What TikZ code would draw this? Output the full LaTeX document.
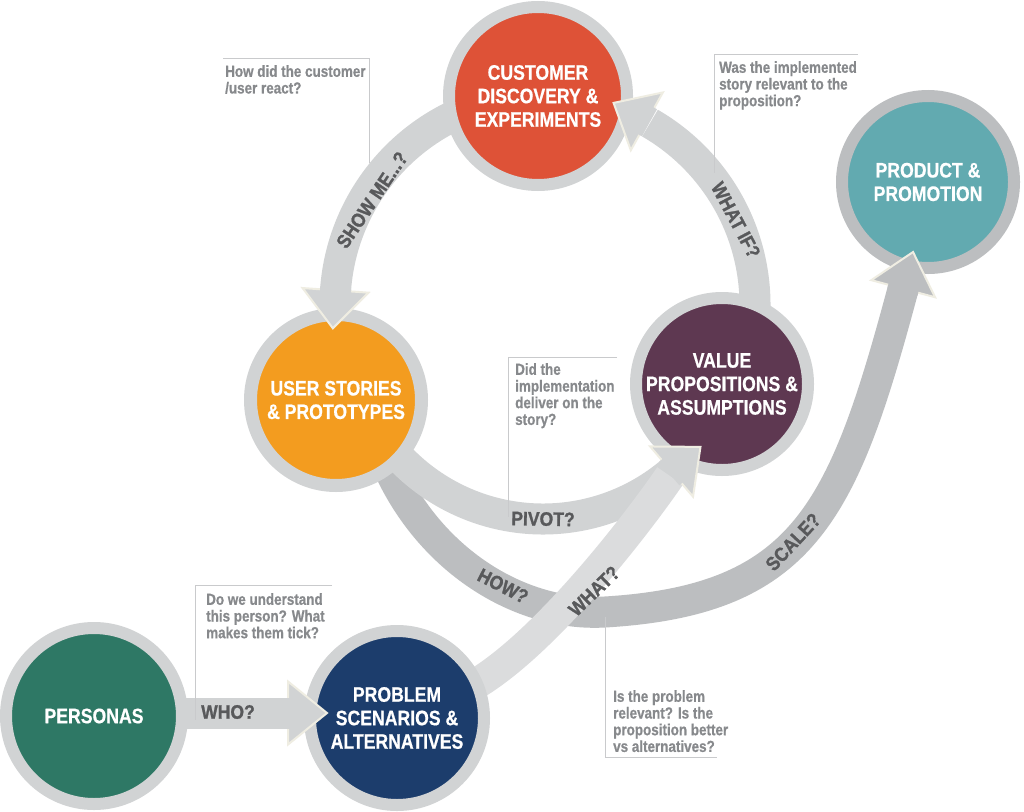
\documentclass[tikz,border=0pt]{standalone}
\usepackage{fontspec}
\setmainfont[FakeStretch=0.84,BoldFeatures={FakeBold=0.6}]{Liberation Sans}
\newfontfamily\lblfont[FakeStretch=0.9,BoldFeatures={FakeBold=1.2}]{Liberation Sans}
\usetikzlibrary{calc}
\definecolor{ringgray}{HTML}{D1D3D4}
\definecolor{darkband}{HTML}{BCBEC0}
\definecolor{lightband}{HTML}{D1D3D4}
\definecolor{whatband}{HTML}{DBDCDD}
\definecolor{headedge}{HTML}{EFEDE2}
\definecolor{labelgray}{HTML}{58595B}
\definecolor{notegray}{HTML}{87898C}
\definecolor{linegray}{HTML}{C9CACC}
\definecolor{custred}{HTML}{DE5237}
\definecolor{prodteal}{HTML}{62AAB0}
\definecolor{userorange}{HTML}{F39C1F}
\definecolor{valueplum}{HTML}{5E3851}
\definecolor{persgreen}{HTML}{2E7865}
\definecolor{probnavy}{HTML}{1C3D6C}
\tikzset{
  band/.style={line width=31pt, draw=lightband},
  dband/.style={line width=31pt, draw=darkband},
  wband/.style={line width=31pt, draw=whatband},
  head/.style={fill=lightband, draw=headedge, line width=2pt, line join=miter},
  dhead/.style={fill=darkband, draw=headedge, line width=2pt, line join=miter},
  bubble/.style={circle, inner sep=0pt, outer sep=0pt, draw=ringgray, text=white,
    font=\bfseries\fontsize{21}{23.5}\selectfont, align=center},
  lbl/.style={text=labelgray, font=\lblfont\bfseries\fontsize{19.5}{21}\selectfont, inner sep=0pt},
  note/.style={text=notegray, font=\bfseries\fontsize{16}{16.7}\selectfont, align=left,
    anchor=north west, inner sep=0pt},
  noteline/.style={draw=linegray, line width=1pt},
}
\begin{document}
\begin{tikzpicture}[x=1pt,y=1pt,yscale=-1]
\useasboundingbox[fill=white] (0,0) rectangle (1024,811);
\coordinate (C1) at (545,305);
\coordinate (C2) at (543,321);

% ---- bands (under the circles)
\coordinate (hs0) at (386,462);
\coordinate (hs1) at (605,612);
\coordinate (scB) at (903.2,288.7);
\draw[dband] (hs0) .. controls (428,560) and (520,617) .. (hs1)
  .. controls (805,600) and (843.7,510.9) .. ($(scB)+(-75:2)$);
\draw[band] ($(C1)+(246:210)$) arc[start angle=246, end angle=183, radius=210];
\draw[band] ($(C1)+(8:210)$) arc[start angle=8, end angle=-60, radius=210];
\draw[band] ($(C2)+(140:198)$) arc[start angle=140, end angle=48.5, radius=198];
\coordinate (wh0) at (465,690);
\coordinate (wh1) at (670,476);
\draw[wband] (wh0) .. controls (540,652) and (640,520) .. (wh1);
\coordinate (who0) at (150,713);
\coordinate (whoB) at (288,713);
\draw[band] (who0) -- (whoB);

% ---- circles
\node[bubble, fill=custred, minimum size=178pt, line width=12pt] (cust) at (538,96)
  {CUSTOMER\\DISCOVERY \&\\EXPERIMENTS};
\node[bubble, fill=prodteal, draw=darkband, minimum size=172pt, line width=12pt] (prod) at (928,182)
  {PRODUCT \&\\PROMOTION};
\node[bubble, fill=userorange, minimum size=171pt, line width=13pt] (user) at (336,400)
  {USER STORIES\\\& PROTOTYPES};
\node[bubble, fill=valueplum, minimum size=172pt, line width=12pt] (value) at (722,384)
  {VALUE\\PROPOSITIONS \&\\ASSUMPTIONS};
\node[bubble, fill=persgreen, minimum size=176pt, line width=12pt] (pers) at (94,716)
  {PERSONAS};
\node[bubble, fill=probnavy, minimum size=174pt, line width=12pt] (prob) at (397,718)
  {PROBLEM\\SCENARIOS \&\\ALTERNATIVES};

% ---- arrow heads
% show me
\coordinate (sM) at ($(C1)+(184:210)$);
\coordinate (sT) at ($(C1)+(184:210)+(94:38)$);
\draw[head] ($(C1)+(184:177)$) -- (sT) -- ($(C1)+(184:243)$) -- cycle;
\draw[band] ($(sM)!-3pt!(sT)$) -- ($(sM)!3pt!(sT)$);
% what if
\coordinate (wM) at ($(C1)+(-61:210)$);
\coordinate (wT) at ($(C1)+(-61:210)+(-151:38)$);
\draw[head] ($(C1)+(-61:177)$) -- (wT) -- ($(C1)+(-61:243)$) -- cycle;
\draw[band] ($(wM)!-3pt!(wT)$) -- ($(wM)!3pt!(wT)$);
% pivot
\coordinate (pM) at ($(C2)+(49.5:198)$);
\coordinate (pT) at ($(C2)+(49.5:198)+(-40.5:38)$);
\draw[head] ($(C2)+(49.5:165)$) -- (pT) -- ($(C2)+(49.5:231)$) -- cycle;
\draw[band] ($(pM)!-3pt!(pT)$) -- ($(pM)!3pt!(pT)$);
% scale
\coordinate (scT) at ($(scB)+(-75:38)$);
\draw[dhead] ($(scB)+(15:33)$) -- (scT) -- ($(scB)+(-165:33)$) -- cycle;
\draw[dband] ($(scB)!-3pt!(scT)$) -- ($(scB)!3pt!(scT)$);
% who
\coordinate (whoT) at (327,713);
\draw[head] (288,681.5) -- (whoT) -- (288,744.5) -- cycle;
\draw[band] ($(whoB)!-3pt!(whoT)$) -- ($(whoB)!3pt!(whoT)$);

% ---- callouts
\draw[noteline] (223,58) -- (369,58) -- (369,163);
\node[note] (n1) at (225,65) {How did the customer\\/user react?};
\draw[noteline] (858,54) -- (714,54) -- (714,173);
\node[note] (n2) at (719,61) {Was the implemented\\story relevant to the\\proposition?};
\draw[noteline] (617,357) -- (508,357) -- (508,517);
\node[note] (n3) at (515,363) {Did the\\implementation\\deliver on the\\story?};
\draw[noteline] (332,585) -- (195,585) -- (195,720);
\node[note] (n4) at (206,593) {Do we understand\\this person? What\\makes them tick?};
\draw[noteline] (605,617) -- (605,757) -- (717,757);
\node[note] (n5) at (613,690) {Is the problem\\relevant? Is the\\proposition better\\vs alternatives?};

% ---- band labels
\node[lbl, rotate=56] (lshow) at (372,200) {SHOW ME...?};
\node[lbl, rotate=-62] (lwhatif) at (736,220) {WHAT IF?};
\node[lbl, rotate=-1] (lpivot) at (543,519) {PIVOT?};
\node[lbl, rotate=-27] (lhow) at (503,586) {HOW?};
\node[lbl, rotate=44] (lwhat) at (594,591) {WHAT?};
\node[lbl, rotate=47] (lscale) at (793,542) {SCALE?};
\node[lbl] (lwho) at (228,712) {WHO?};
\end{tikzpicture}
\end{document}
